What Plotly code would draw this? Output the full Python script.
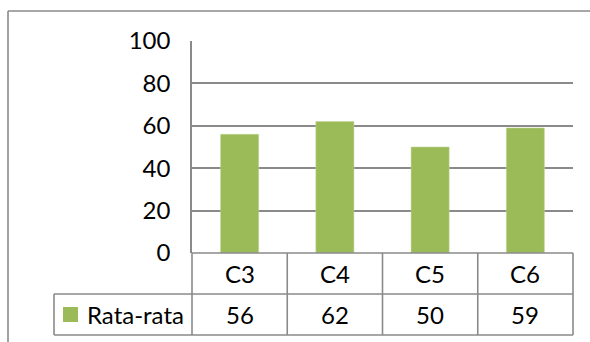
import plotly.graph_objects as go

categories = ["C3", "C4", "C5", "C6"]
values = [56, 62, 50, 59]
series_name = "Rata-rata"
y_ticks = [0, 20, 40, 60, 80, 100]

W, H = 590, 342
L, R, T, B = 192, 17, 41, 89
pw, ph = W - L - R, H - T - B

BAR = "#9BBB59"
LINE = "#8A8A8A"
FONT = "Lato"
FS = 24


def px_x(p):
    return (p - L) / pw


def px_y(p):
    return (H - B - p) / ph


fig = go.Figure()
fig.add_trace(go.Bar(x=categories, y=values, marker=dict(color=BAR, line=dict(color="#C3D69B", width=0.5)),
                     name=series_name, showlegend=False))

n = len(categories)
shapes = []
annotations = []
row1_top, row1_bot, row2_bot = 0.0, px_y(294), px_y(335)
header_left = px_x(54)
grid_right = 1.0
tf = dict(family=FONT, size=FS, color="black")
lw = 1.6
# horizontal lines of table
shapes.append(dict(type="line", xref="paper", yref="paper", x0=0, x1=grid_right, y0=row1_top, y1=row1_top,
                   line=dict(color=LINE, width=lw)))
shapes.append(dict(type="line", xref="paper", yref="paper", x0=header_left, x1=grid_right, y0=row1_bot, y1=row1_bot,
                   line=dict(color=LINE, width=lw)))
shapes.append(dict(type="line", xref="paper", yref="paper", x0=header_left, x1=grid_right, y0=row2_bot, y1=row2_bot,
                   line=dict(color=LINE, width=lw)))
shapes.append(dict(type="line", xref="paper", yref="paper", x0=header_left, x1=header_left, y0=row1_bot, y1=row2_bot,
                   line=dict(color=LINE, width=lw)))
for i in range(n + 1):
    xp = i / n
    shapes.append(dict(type="line", xref="paper", yref="paper", x0=xp, x1=xp, y0=row1_top, y1=row2_bot,
                       line=dict(color=LINE, width=lw)))
for i, (c, v) in enumerate(zip(categories, values)):
    xc = (i + 0.5) / n
    annotations.append(dict(xref="paper", yref="paper", x=xc, y=(row1_top + row1_bot) / 2, text=c,
                            showarrow=False, xanchor="center", yanchor="middle", font=tf))
    annotations.append(dict(xref="paper", yref="paper", x=xc, y=(row1_bot + row2_bot) / 2, text=str(v),
                            showarrow=False, xanchor="center", yanchor="middle", font=tf))
# legend key in table header
shapes.append(dict(type="rect", xref="paper", yref="paper", x0=px_x(63), x1=px_x(78), y0=px_y(307), y1=px_y(322),
                   fillcolor=BAR, line=dict(width=0)))
annotations.append(dict(xref="paper", yref="paper", x=px_x(85), y=(row1_bot + row2_bot) / 2, text=series_name,
                        showarrow=False, xanchor="left", yanchor="middle", font=tf))
# outer chart border
shapes.append(dict(type="line", xref="paper", yref="paper", x0=px_x(8), x1=px_x(600), y0=px_y(11), y1=px_y(11),
                   line=dict(color=LINE, width=lw)))
shapes.append(dict(type="line", xref="paper", yref="paper", x0=px_x(8), x1=px_x(8), y0=px_y(11), y1=px_y(350),
                   line=dict(color=LINE, width=lw)))

fig.update_layout(
    width=W, height=H, autosize=False,
    margin=dict(l=L, r=R, t=T, b=B, pad=0),
    paper_bgcolor="white", plot_bgcolor="white",
    bargap=0.6,
    shapes=shapes, annotations=annotations,
    font=tf,
)
fig.update_xaxes(showticklabels=False, showgrid=False, zeroline=False, showline=False, ticks="",
                 range=[-0.5, n - 0.5])
fig.update_yaxes(range=[0, 100], tickvals=y_ticks, showgrid=True, gridcolor=LINE, gridwidth=lw,
                 zeroline=False, showline=True, linecolor=LINE, linewidth=lw, ticks="",
                 ticklabelstandoff=15, tickfont=tf)

fig.write_html("out.html")
